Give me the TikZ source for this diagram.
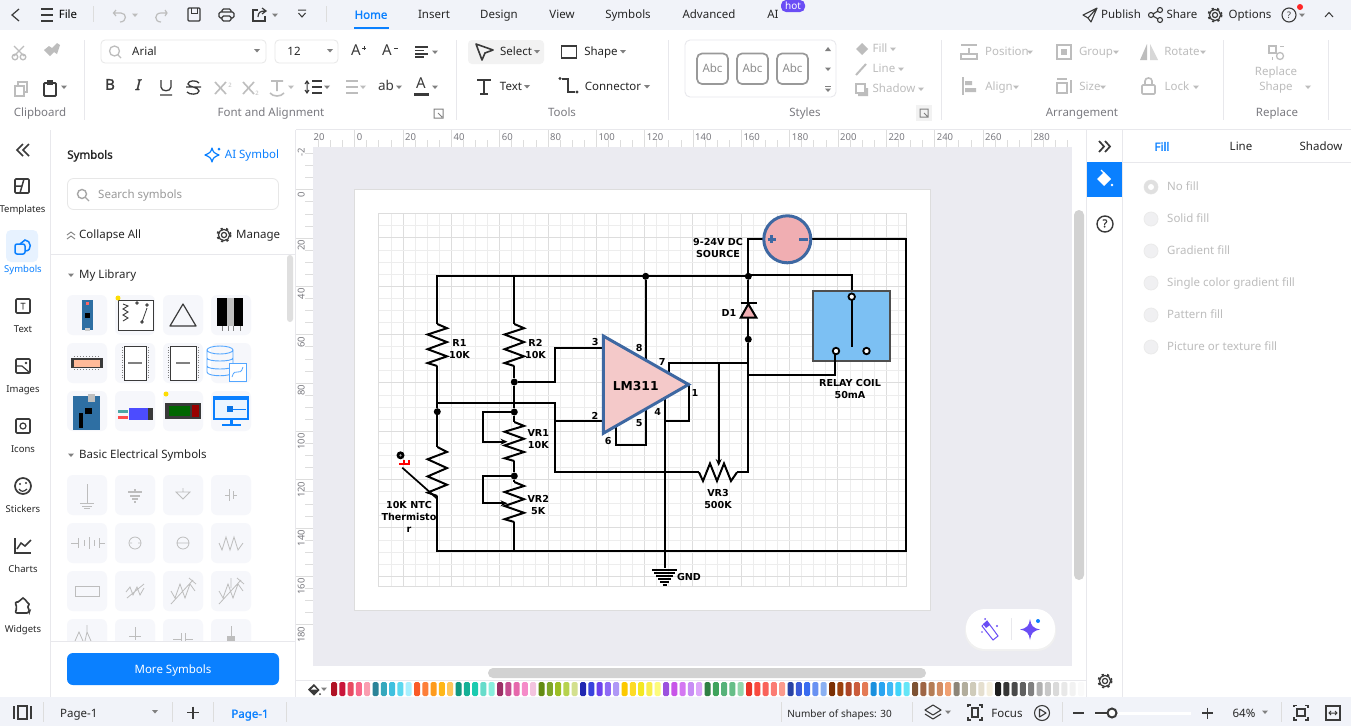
\documentclass[tikz,border=0pt]{standalone}
\usepackage{fontspec}
\setmainfont{Noto Sans}[BoldFont={Noto Sans},BoldFeatures={FakeBold=1.4}]
\newfontfamily\dgfont{DejaVu Sans}
\usetikzlibrary{arrows.meta,shapes.geometric}
\definecolor{accent}{HTML}{0A80FF}
\definecolor{barbg}{HTML}{F1F3F9}
\definecolor{canvasbg}{HTML}{EBEBF1}
\definecolor{icdark}{HTML}{3A3A3A}
\definecolor{disgray}{HTML}{BDBDBD}
\definecolor{labgray}{HTML}{7A7A80}
\definecolor{sepgray}{HTML}{E8E8EC}
\definecolor{tilebg}{HTML}{F6F7FB}
\definecolor{gridmin}{HTML}{EDEDED}
\definecolor{gridmaj}{HTML}{DDDDDD}
\definecolor{ampstroke}{HTML}{3E68A2}
\definecolor{ampfill}{HTML}{F4C9C9}
\definecolor{srcfill}{HTML}{F0AEB2}
\definecolor{relayfill}{HTML}{7CC0F3}
\definecolor{violet}{HTML}{6A4DF5}
\definecolor{radiofill}{HTML}{F0F0F2}
\definecolor{boardblue}{HTML}{2E6FA3}
\definecolor{pureRed}{HTML}{FF0000}
\newcounter{uic}
\newcommand{\ut}[5]{\stepcounter{uic}\node[ui,anchor=#3,text=#4] (t\arabic{uic}) at (#1,#2+.8) {#5};}
\newcommand{\ub}[5]{\stepcounter{uic}\node[ui,anchor=#3,text=#4,font=\fontsize{11.5}{13}\selectfont\bfseries] (t\arabic{uic}) at (#1,#2+.8) {#5};}
\newcommand{\caret}[3]{\fill[#3] (#1-3,#2-1.5) -- (#1+3,#2-1.5) -- (#1,#2+2) -- cycle;}
\newcommand{\gear}[3]{\draw[#3,line width=1.2] (#1,#2) circle[radius=2.6]; \draw[#3,line width=1.2] (#1,#2) circle[radius=5.6]; \draw[#3,line width=1.8,dash pattern=on 2.2pt off 3.3pt] (#1,#2) circle[radius=6.6];}
\newcommand{\vzz}[3]{\draw[wire,line join=miter] ({#1},{#2}) -- ({#1+9.7},{#2+.1*(#3-#2)}) -- ({#1-9.7},{#2+.25*(#3-#2)}) -- ({#1+9.7},{#2+.43*(#3-#2)}) -- ({#1-9.7},{#2+.6*(#3-#2)}) -- ({#1+9.7},{#2+.77*(#3-#2)}) -- ({#1-9.7},{#2+.93*(#3-#2)}) -- ({#1},{#3});}
\newcommand{\tile}[2]{\fill[tilebg,rounded corners=6pt] (#1,#2) rectangle (#1+40,#2+40);}
\tikzset{
  ui/.style={font=\fontsize{11.5}{13}\selectfont,inner sep=0pt,text height=8.5pt,text depth=2.5pt},
  wire/.style={draw=black,line width=2pt},
  dot/.style={circle,fill=black,inner sep=0pt,minimum size=7pt},
  dlabel/.style={font=\dgfont\bfseries\fontsize{9.6}{12}\selectfont,align=center,inner sep=0pt},
  ic/.style={draw=icdark,line width=1.3pt},
  dis/.style={draw=disgray,line width=1.3pt},
  sym/.style={draw=disgray,line width=.8pt},
}
\begin{document}
\begin{tikzpicture}[x=1pt,y=-1pt]
\useasboundingbox (0,0) rectangle (1351,726);
\fill[white] (0,0) rectangle (1351,726);
% canvas
\fill[canvasbg] (313,147) rectangle (1072,666);
\draw[draw=gridmaj,line width=1pt,fill=white] (354.7,189.8) rectangle (930,610);
% grid
\foreach \i in {0,...,43}{\pgfmathtruncatemacro\m{mod(\i+2,4)}
  \ifnum\m=0 \draw[gridmaj,line width=1pt] ({378.9+12.08*\i},213.5) -- ({378.9+12.08*\i},586.7);
  \else \draw[gridmin,line width=.9pt] ({378.9+12.08*\i},213.5) -- ({378.9+12.08*\i},586.7);\fi}
\foreach \j in {0,...,30}{\pgfmathtruncatemacro\m{mod(\j+2,4)}
  \ifnum\m=0 \draw[gridmaj,line width=1pt] (378.9,{213.8+12.08*\j}) -- (906,{213.8+12.08*\j});
  \else \draw[gridmin,line width=.9pt] (378.9,{213.8+12.08*\j}) -- (906,{213.8+12.08*\j});\fi}
\draw[gridmaj,line width=1pt] (378.9,213.5) rectangle (906,586.7);
% === circuit ===
\coordinate (railL) at (437.3,276.3);
\coordinate (railR2) at (514.3,276.3);
\coordinate (r1top) at (437.3,324);
\coordinate (r1bot) at (437.3,366);
\coordinate (thtop) at (437.3,447);
\coordinate (thbot) at (437.3,496);
\coordinate (botL) at (437.3,551);
\coordinate (botV) at (514.3,551);
\coordinate (botR) at (905.7,551);
\coordinate (r2top) at (514.3,324);
\coordinate (r2bot) at (514.3,366);
\coordinate (vr1top) at (514.3,422);
\coordinate (vr1bot) at (514.3,461);
\coordinate (vr2top) at (514.3,482);
\coordinate (vr2bot) at (514.3,522);
\coordinate (srcL) at (763,239.3);
\coordinate (srcR) at (811.5,239.3);
\coordinate (srcCorner) at (748.3,239.3);
\coordinate (srcCornerR) at (905.7,239.3);
\coordinate (relTop) at (851.7,296.7);
\coordinate (relBl) at (851.7,346.5);
\coordinate (p3) at (603.3,348.3);
\coordinate (p2) at (603.3,421);
\coordinate (vr3l) at (699,472.3);
\coordinate (vr3r) at (737,472.3);
\node[dot] (dR2) at (514.3,382) {};
\node[dot] (dR1) at (437.3,411.7) {};
\node[dot] (dV1) at (514.3,412) {};
\node[dot] (dV2) at (514.3,476) {};
\node[dot] (dP8) at (645.7,276.3) {};
\node[dot] (dD) at (748.3,276.3) {};
\node[dot] (dK) at (748.3,339.3) {};
% rails
\draw[wire] (r1top) -- (railL) -- (dD) -- (748.3,275.3) -- (851.7,275.3) -- (relTop);
\draw[wire] (railR2) -- (r2top);
\draw[wire] (r2bot) -- (dR2) -- (dV1) -- (vr1top);
\draw[wire] (r1bot) -- (dR1) -- (thtop);
\draw[wire] (thbot) -- (botL) -- (botR) -- (srcCornerR) -- (srcR);
\draw[wire] (botV) -- (vr2bot);
\draw[wire] (vr1bot) -- (dV2) -- (vr2top);
\draw[wire] (dR2) -- (555.3,382) -- (555.3,348.3) -- (p3);
\draw[wire] (437.3,403.3) -- (555.3,403.3) -- (555.3,472.3) -- (vr3l);
\draw[wire] (555.3,421) -- (p2);
\draw[wire] (vr3r) -- (748.3,472.3) -- (dK);
\draw[wire] (dD) -- (srcCorner) -- (srcL);
\draw[wire] (dD) -- (dK);
\draw[wire] (748.3,375) -- (835.3,375) -- (835.3,351);
\draw[wire] (dP8) -- (645.7,362);
\draw[wire] (669,376) -- (669,363.3) -- (748.3,363.3);
\draw[wire,-{Stealth[length=7pt,width=6pt]}] (718.7,363.3) -- (718.7,466);
\draw[wire] (615.7,425) -- (615.7,445) -- (645.7,445) -- (645.7,409);
\draw[wire] (664.7,396) -- (664.7,568);
\draw[wire] (689,384) -- (689,421) -- (664.7,421);
\draw[wire,-{Stealth[length=7pt,width=6pt]}] (dV1) -- (482.7,412) -- (482.7,441.7) -- (507.5,441.7);
\draw[wire,-{Stealth[length=7pt,width=6pt]}] (dV2) -- (482.7,476) -- (482.7,503.3) -- (507.5,503.3);
\vzz{437.3}{324}{366}
\vzz{514.3}{324}{366}
\vzz{437.3}{447}{496}
\vzz{514.3}{422}{461}
\vzz{514.3}{482}{522}
\draw[wire] (vr3l) -- (703,481) -- (710,463.5) -- (717,481) -- (724,463.5) -- (731,481) -- (vr3r);
% thermistor arrow line
\coordinate (thA) at (402.3,467.7);
\coordinate (thB) at (437,498.5);
\draw[black,line width=1.7pt] (thA) -- (thB);
\node[circle,fill=black,inner sep=0pt,minimum size=8pt] (thDot) at (400.5,455.3) {};
\fill[gray!70] (thDot.center) circle[radius=1.2];
\draw[pureRed,line width=2pt] (399,463.5) -- (409.3,463.5) -- (409.3,459.5);
\draw[pureRed,line width=2pt] (403.5,459.5) -- (403.5,463.5);
% relay
\node[draw=icdark!90,line width=2pt,fill=relayfill,minimum width=76.4pt,minimum height=69.4pt,inner sep=0pt] (relay) at (851.5,326) {};
\draw[black,line width=2pt] (relTop) -- (relBl);
\draw[wire] (835.3,375) -- (835.3,351);
\node[circle,draw=black,line width=1.8pt,fill=white,minimum size=6.5pt,inner sep=0pt] (rt) at (relTop) {};
\node[circle,draw=black,line width=1.8pt,fill=white,minimum size=6.5pt,inner sep=0pt] (rl) at (836,351) {};
\node[circle,draw=black,line width=1.8pt,fill=white,minimum size=6.5pt,inner sep=0pt] (rr) at (866.5,351) {};
% source
\node[circle,draw=ampstroke,line width=3pt,fill=srcfill,minimum size=47pt,inner sep=0pt] (src) at (787.3,239.3) {};
\draw[ampstroke,line width=2.6pt] (767.5,239.3) -- (775.5,239.3) (771.5,235.3) -- (771.5,243.3);
\draw[ampstroke,line width=2.6pt] (799,239.3) -- (807.5,239.3);
% diode
\draw[black,line width=2pt] (740.5,303.3) -- (756.5,303.3);
\draw[black,line width=2pt,fill=srcfill,line join=miter] (748.3,304) -- (756.3,317.5) -- (740.8,317.5) -- cycle;
% op amp
\draw[ampstroke,line width=3pt,fill=ampfill,line join=miter] (603.3,336) -- (688.5,384.5) -- (603.3,433.3) -- cycle;
% ground
\foreach \a/\b in {570/12.5,573/10.5,576/8.5,579/6.5,582/4.5,585/2.2}{\draw[black,line width=1.6pt] ({664.7-\b},\a) -- ({664.7+\b},\a);}
\node[dlabel] (gnd) at (689,576.5) {GND};
\node[dlabel,font=\dgfont\bfseries\fontsize{12.3}{13}\selectfont] (lm) at (635.7,385.7) {LM311};
\node[dlabel] (lR1) at (459.5,349.5) {R1\\10K};
\node[dlabel] (lR2) at (535.5,348.5) {R2\\10K};
\node[dlabel] (n3) at (595.3,341.7) {3};
\node[dlabel] (n8) at (639.3,348.3) {8};
\node[dlabel] (n7) at (662.3,361.7) {7};
\node[dlabel] (n2) at (595,415.7) {2};
\node[dlabel] (n6) at (608.3,440.7) {6};
\node[dlabel] (n5) at (639.3,423.3) {5};
\node[dlabel] (n4) at (657.7,412.3) {4};
\node[dlabel] (n1) at (695,392.7) {1};
\node[dlabel] (lV1) at (538.3,439.5) {VR1\\10K};
\node[dlabel] (lV2) at (538.3,505.3) {VR2\\5K};
\node[dlabel] (lV3) at (718,499) {VR3\\500K};
\node[dlabel] (lTh) at (409,516.7) {10K NTC\\Thermisto\\r};
\node[dlabel] (lD1) at (729,313.3) {D1};
\node[dlabel] (lSrc) at (718,247.5) {9-24V DC\\SOURCE};
\node[dlabel] (lRel) at (850,388.8) {RELAY COIL\\50mA};
% === rulers ===
\fill[white] (296,130) rectangle (1072,147);
\foreach \k in {-4,...,59}{\pgfmathsetmacro\xx{354.7+12.083*\k}
  \ifdim\xx pt>313pt \draw[gridmaj,line width=.8pt] (\xx,140) -- (\xx,147);\fi}
\foreach \k/\v in {0/0,1/20,2/40,3/60,4/80,5/100,6/120,7/140,8/160,9/180,10/200,11/220,12/240,13/260,14/280}{
  \draw[gridmaj,line width=.8pt] ({354.7+48.33*\k},130) -- ({354.7+48.33*\k},147);
  \node[ui,font=\fontsize{9.5}{11}\selectfont,text=labgray,anchor=west,text height=7pt,text depth=0pt] (rh\k) at ({356.7+48.33*\k},136.5) {\v};}
\fill[white] (296,147) rectangle (313,666);
\fill[white] (296,130) rectangle (313,147);
\node[ui,font=\fontsize{9.5}{11}\selectfont,text=labgray,anchor=west,text height=7pt,text depth=0pt] (rhn) at (313.5,136.5) {20};
\foreach \k in {0,...,39}{\pgfmathsetmacro\yy{153.5+12.083*\k}
  \draw[gridmaj,line width=.8pt] (305,\yy) -- (313,\yy);}
\foreach \k/\v in {0/0,1/20,2/40,3/60,4/80,5/100,6/120,7/140,8/160,9/180}{
  \draw[gridmaj,line width=.8pt] (296,{189.8+48.33*\k}) -- (313,{189.8+48.33*\k});
  \node[ui,font=\fontsize{9.5}{11}\selectfont,text=labgray,anchor=east,rotate=90,text height=7pt,text depth=0pt] (rv\k) at (301,{191.5+48.33*\k}) {\v};}
\node[ui,font=\fontsize{9.5}{11}\selectfont,text=labgray,anchor=center,rotate=90,text height=7pt,text depth=0pt] (rvm) at (301,152) {-2};
\draw[sepgray,line width=1pt] (295.5,130) -- (295.5,697);
\draw[sepgray,line width=1pt] (296,129.5) -- (1087,129.5);
% scrollbars
\fill[white] (1072,130) rectangle (1087,697);
\fill[white] (296,666) rectangle (1087,697);
\fill[gray!35,rounded corners=5pt] (1074,210) rectangle (1084,580);
\fill[gray!35,rounded corners=5pt] (488,668) rectangle (926,678);
% floating panel
\fill[black!6,rounded corners=19pt] (965,611) rectangle (1056,651);
\fill[white,rounded corners=19pt] (966,609) rectangle (1055,649);
\draw[sepgray,line width=.8pt] (1011,618) -- (1011,640);
\draw[violet,line width=1pt,fill=white] (982,626) -- (987,621) -- (998,636) -- (993,640) -- cycle;
\fill[violet] (983,624) -- (987,621) -- (990,625) -- (986,628) -- cycle;
\fill[violet] (985,619) circle[radius=1] (997,626) circle[radius=1.2] (982,632) circle[radius=.9];
\fill[violet] (1030,619) .. controls (1031,626) and (1033,628) .. (1040,629.5) .. controls (1033,631) and (1031,633) .. (1030,640) .. controls (1029,633) and (1027,631) .. (1020,629.5) .. controls (1027,628) and (1029,626) .. (1030,619) -- cycle;
\fill[accent] (1038,621) circle[radius=2];
% colour strip
\draw[sepgray,line width=.8pt] (296,680.5) -- (1087,680.5);
\fill[icdark] (308,689.5) -- (314,684) -- (319.5,690) -- (314,695.5) -- cycle;
\fill[white] (311,689.5) -- (314,686.5) -- (317,689.5) -- cycle;
\fill[icdark] (320,694) circle[radius=1];
\caret{324}{689}{gray}
\foreach \c [count=\i from 0] in {B01225,C9143A,E84A62,F8688A,FA9DB0,2A8398,35A8BD,3FC0DF,5BD8EF,A8F0FF,FA5B28,FD7F3A,FE9B1E,FFB718,FFC65C,129880,15B096,1CCBB0,67DCCB,88EFDD,9C3067,C54D90,E668AC,F58BC9,F3C4DF,638C12,7FA62A,9CBE26,B6D24E,D3E08E,2127B2,3942DE,6D42ED,8F6AF5,AF98F6,FCC900,FDDB28,F4E822,F9EE4C,FDFB7C,9B52DE,C855E8,D477F2,C88DF5,DDA6FB,2F7F44,3FA35C,57B27A,67BE88,94D6AC,EA3428,F94B40,F9625A,FB7C74,FB9A8C,2842A5,3B5BD8,3A6CF0,6991F2,8BB0F2,7B2E02,9B400D,AD4526,CB5C3C,E47A55,1A90DE,2AA5F1,40B8F6,40D4FA,65E6F7,7E5233,9E6545,B47C55,D38C62,F0A072,8D8578,B2AD9D,CFCBBA,E5DFCF,F5EFDE,1C1C1C,363636,4A4A4A,606060,808080,B0B0B0,C8C8C8,DADADA,E8E8E8,F2F2F2,FAFAFA}{
  \definecolor{swc}{HTML}{\c}
  \fill[swc,rounded corners=1.5pt] ({331+8.3*\i},682) rectangle ({337+8.3*\i},696);}
% === top bar ===
\fill[barbg] (0,0) rectangle (1351,30);
\draw[icdark,line width=1.2pt] (19,9) -- (12,15) -- (19,21);
\draw[icdark,line width=1.2pt] (41,9) -- (53,9) (41,15) -- (53,15) (41,21) -- (53,21);
\ut{68}{15}{center}{black}{File}
\draw[gridmaj,line width=.8pt] (93.5,6) -- (93.5,22);
\draw[disgray,line width=1.2pt] (116,10) -- (113.5,13) -- (116,16) (114,13) -- (121,13) .. controls (127,13) and (127,22) .. (120,22);
\caret{135}{15}{disgray}
\draw[disgray,line width=1.2pt] (165,10) -- (167,13) -- (165,16) (167,13) -- (161,13) .. controls (154,13) and (154,22) .. (161,22);
\draw[icdark,line width=1.2pt,rounded corners=1pt] (188,8) rectangle (200,21);
\draw[icdark,line width=1pt] (191,8) -- (191,13) -- (197,13) -- (197,8);
\draw[icdark,line width=1.2pt,rounded corners=1.5pt] (222,12) -- (222,9) -- (231,9) -- (231,12) (222,18) -- (219,18) -- (219,12) -- (234,12) -- (234,18) -- (231,18) (222,16) rectangle (231,21);
\draw[icdark,line width=1.2pt] (258,10) -- (253,10) -- (253,21) -- (265,21) -- (265,16);
\draw[icdark,line width=1.2pt] (258,17) .. controls (258,12) and (261,11) .. (265,11) (262,8) -- (266,11) -- (262,14);
\caret{275}{15}{gray}
\draw[icdark,line width=1pt] (298,10) -- (306,10) (298.5,13) -- (302,17) -- (305.5,13);
\draw[gridmaj,line width=.8pt] (326.5,6) -- (326.5,22);
\ub{371}{15}{center}{accent}{Home}
\fill[accent] (354,27) rectangle (389,29);
\ut{434}{15}{center}{black!85}{Insert}
\ut{499}{15}{center}{black!85}{Design}
\ut{562}{15}{center}{black!85}{View}
\ut{628}{15}{center}{black!85}{Symbols}
\ut{709}{15}{center}{black!85}{Advanced}
\ut{773}{15}{center}{black!85}{AI}
\fill[violet,rounded corners=5pt] (781,0) rectangle (805,12);
\stepcounter{uic}\node[ui,font=\fontsize{10}{11}\selectfont,text=white,text height=6pt,text depth=0pt] (hot) at (793,6) {hot};
\draw[icdark,line width=1.1pt,line join=round] (1097,8) -- (1083,15) -- (1088,18) -- (1097,8) -- (1091,22) -- (1088,18);
\ut{1121}{15}{center}{black!85}{Publish}
\draw[icdark,line width=1.1pt] (1151,15) circle[radius=2.5] (1160,10) circle[radius=2.5] (1160,20) circle[radius=2.5] (1153,14) -- (1158,11) (1153,16) -- (1158,19);
\ut{1182}{15}{center}{black!85}{Share}
\gear{1215}{15}{icdark}
\ut{1250}{15}{center}{black!85}{Options}
\draw[icdark,line width=1.1pt] (1289,15) circle[radius=7];
\node[ui,font=\fontsize{9}{10}\selectfont,text=icdark,text height=6.5pt,text depth=0pt] (q1) at (1289,15) {?};
\fill[red!85!white] (1300,7) circle[radius=3];
\caret{1302}{15}{gray}
\draw[icdark,line width=1pt] (1325,17) -- (1329,12.5) -- (1333,17);
% === ribbon separators ===
\foreach \sx in {84,456,668,941,1223,1328}{\draw[sepgray,line width=.8pt] (\sx,40) -- (\sx,120);}
% clipboard
\draw[disgray,line width=1.3pt] (14,46) -- (24,56) (24,46) -- (14,56) (15,57) circle[radius=2.8] (23,57) circle[radius=2.8];
\fill[disgray] (44,50) -- (50,56) -- (54,52) -- (57,54) -- (60,45) -- (57,43) -- (52,48) -- (49,46) -- cycle;
\draw[dis] (15,86) rectangle (24,96) (18,86) -- (18,82) -- (27,82) -- (27,92) -- (24,92);
\draw[ic,line width=1.8pt,rounded corners=1pt] (44,83) rectangle (56,96);
\fill[icdark] (47,80) rectangle (53,85);
\caret{64}{87}{gray}
\ut{40}{113}{center}{labgray}{Clipboard}
% font row
\draw[gridmaj!70,line width=.8pt,rounded corners=4pt] (101,40) rectangle (266,63);
\draw[disgray,line width=1.3pt] (114.5,51) circle[radius=5] (118,55) -- (121,58);
\ut{132}{52}{west}{black!85}{Arial}
\caret{257}{50.5}{gray}
\draw[gridmaj!70,line width=.8pt,rounded corners=4pt] (275,40) rectangle (338,63);
\ut{294}{52}{center}{black!85}{12}
\caret{330}{50.5}{gray}
\ut{356}{52}{center}{icdark}{\fontsize{15}{15}\selectfont A}
\draw[icdark,line width=1pt] (362,48) -- (366,48) (364,46) -- (364,50);
\ut{387}{52}{center}{icdark}{\fontsize{15}{15}\selectfont A}
\draw[icdark,line width=1pt] (394,48) -- (398,48);
\draw[icdark,line width=1.3pt] (415,47) -- (428,47) (415,50.5) -- (424,50.5) (415,54) -- (428,54) (415,57) -- (424,57);
\caret{435}{52}{gray}
\ub{110}{86}{center}{icdark}{\fontsize{15}{15}\selectfont B}
\stepcounter{uic}\node[ui,font=\fontsize{15}{15}\selectfont\bfseries,text=icdark,xslant=.25] (iI) at (138,87) {I};
\draw[icdark,line width=1.3pt] (161,80) -- (161,87) .. controls (161,92) and (171,92) .. (171,87) -- (171,80) (160,95) -- (172,95);
\draw[icdark,line width=1.3pt] (199,83) .. controls (197,80) and (188,80) .. (188,84) .. controls (188,87) and (199,87) .. (199,91) .. controls (199,95) and (189,95) .. (187,92) (186,87) -- (201,87);
\draw[disgray,line width=1.6pt] (215,82) -- (226,94) (226,82) -- (215,94);
\ut{230}{84}{center}{disgray}{\fontsize{6}{6}\selectfont 2}
\draw[disgray,line width=1.6pt] (243,82) -- (254,94) (254,82) -- (243,94);
\ut{257}{92}{center}{disgray}{\fontsize{6}{6}\selectfont 2}
\draw[disgray,line width=1.6pt] (271,81) -- (283,81) (277,81) -- (277,91) (270,93) .. controls (273,97) and (281,97) .. (284,93);
\caret{291}{87}{disgray}
\draw[icdark,line width=1.5pt] (312,87) -- (322,87) (312,81) -- (322,81) (312,93) -- (322,93);
\draw[icdark,line width=1pt] (307,82) -- (307,92) (305,84) -- (307,81) -- (309,84) (305,90) -- (307,93) -- (309,90);
\caret{327}{87}{gray}
\draw[disgray,line width=1.2pt] (346,81) -- (358,81) (346,87) -- (358,87) (346,93) -- (358,93);
\caret{363}{87}{disgray}
\ut{386}{86.5}{center}{icdark}{\fontsize{13.5}{14}\selectfont ab}
\caret{399}{87}{gray}
\ut{421}{84.5}{center}{icdark}{\fontsize{15}{15}\selectfont A}
\fill[icdark] (414,93) rectangle (429,95.5);
\caret{435}{87}{gray}
\ut{271}{113}{center}{labgray}{Font and Alignment}
\draw[gray,line width=1pt] (434,109) rectangle (443,118) (438,113) -- (442,117);
% tools
\fill[black!5,rounded corners=4pt] (468,40) rectangle (544,64);
\draw[icdark,line width=1.6pt,line join=round] (476,44) -- (493,50) -- (485,53) -- (482,60) -- cycle;
\ut{516}{52}{center}{black!85}{Select}
\caret{537}{51.5}{gray}
\draw[icdark,line width=1.7pt] (561.5,46) rectangle (576.5,58);
\ut{601}{52}{center}{black!85}{Shape}
\caret{623}{51.5}{gray}
\draw[icdark,line width=1.7pt] (477,80) -- (491,80) (484,80) -- (484,94) (480,94) -- (488,94);
\ut{511}{87}{center}{black!85}{Text}
\caret{527}{86.5}{gray}
\draw[icdark,line width=1.5pt] (562,79) -- (568,79) -- (568,92) -- (575,92);
\fill[icdark] (560,78.5) circle[radius=1.6] (577,92) circle[radius=1.6];
\ut{613}{87}{center}{black!85}{Connector}
\caret{647}{86.5}{gray}
\ut{562}{113}{center}{labgray}{Tools}
% styles
\draw[sepgray,line width=.9pt,rounded corners=5pt] (685,40) rectangle (836,97);
\foreach \bx/\bn in {697/a,737/b,777/c}{
  \draw[gray!80,line width=1.7pt,rounded corners=5pt] (\bx,53.5) rectangle (\bx+31,84);
  \ut{\bx+15.5}{69}{center}{gray!90}{Abc}}
\fill[gray] (828,47) -- (825,51) -- (831,51) -- cycle;
\caret{828}{69}{gray}
\caret{828}{90}{gray}
\draw[gray,line width=.8pt] (825,86) -- (831,86);
\ut{805}{113}{center}{labgray}{Styles}
\fill[disgray] (856,49) -- (862,43) -- (868,49) -- (862,55) -- cycle;
\ut{880}{49}{center}{disgray}{Fill}
\caret{893}{49}{disgray}
\draw[disgray,line width=2pt] (856,75) -- (866,64);
\ut{884}{69}{center}{disgray}{Line}
\caret{901}{69}{disgray}
\draw[disgray,line width=1.4pt,fill=white] (856,84) rectangle (865,93);
\fill[disgray] (866,88) rectangle (868,95) (858,94) rectangle (868,96);
\ut{894}{89}{center}{disgray}{Shadow}
\caret{921}{89}{disgray}
\fill[black!5] (916,105) rectangle (932,121);
\draw[gray,line width=1pt] (920,109) rectangle (928,117) (924,113) -- (928,117);
% arrangement
\draw[dis] (961,45) -- (977,45) (961,59) rectangle (977,54) (969,53) -- (969,48);
\ut{1007}{52}{center}{disgray}{Position}
\caret{1030}{52}{disgray}
\draw[dis,line width=1.8pt] (1057,45) rectangle (1071,59);
\fill[disgray] (1061,49) rectangle (1067,55);
\ut{1096}{52}{center}{disgray}{Group}
\caret{1116}{52}{disgray}
\fill[disgray] (1147,44) -- (1147,60) -- (1140,60) -- cycle;
\fill[disgray!60] (1150,44) -- (1150,60) -- (1158,60) -- cycle;
\ut{1182}{52}{center}{disgray}{Rotate}
\caret{1203}{52}{disgray}
\draw[dis,line width=1.6pt] (963,77) -- (963,95);
\fill[disgray] (965,81) rectangle (972,85) (965,88) rectangle (976,92);
\ut{999}{87}{center}{disgray}{Align}
\caret{1016}{87}{disgray}
\draw[dis] (1057,79) -- (1067,79) (1057,83) rectangle (1067,93) (1071,80) -- (1071,93);
\ut{1090}{87}{center}{disgray}{Size}
\caret{1103}{87}{disgray}
\draw[dis,line width=1.6pt,rounded corners=1pt] (1142,85) rectangle (1155,94);
\draw[dis,line width=1.6pt] (1145,85) -- (1145,81) .. controls (1145,77) and (1152,77) .. (1152,81) -- (1152,85);
\ut{1177}{87}{center}{disgray}{Lock}
\caret{1196}{87}{disgray}
\ut{1082}{113}{center}{labgray}{Arrangement}
\draw[dis] (1269,46) rectangle (1276,53);
\draw[dis] (1280,56) circle[radius=3.5];
\draw[dis,line width=1pt] (1280,46) -- (1284,46) (1272,57) -- (1272,60);
\ut{1276}{72}{center}{disgray}{Replace}
\ut{1276}{87}{center}{disgray}{Shape}
\caret{1308}{87}{disgray}
\ut{1277}{113}{center}{labgray}{Replace}
% === left rail ===
\draw[sepgray,line width=1pt] (50.5,130) -- (50.5,697);
\draw[icdark,line width=1.7pt] (23,144) -- (17,150) -- (23,156) (29,144) -- (23,150) -- (29,156);
\draw[icdark,line width=1.7pt,rounded corners=1pt] (15,179) rectangle (29,193);
\draw[icdark,line width=1.5pt] (15,186) -- (22,186) (24,179) -- (20,193);
\ut{22.5}{208.3}{center}{black!85}{\fontsize{9.5}{11}\selectfont Templates}
\fill[accent!10,rounded corners=5pt] (6,230) rectangle (38,262);
\draw[accent,line width=1.5pt,rounded corners=2pt] (15,244) rectangle (25,254);
\draw[accent,line width=1.5pt] (25,251) .. controls (33,251) and (31,240) .. (25,240) -- (20,244);
\ut{23}{268.3}{center}{accent}{\fontsize{9.5}{11}\selectfont Symbols}
\draw[icdark,line width=1.7pt,rounded corners=1pt] (16,299) rectangle (30,313);
\ub{23}{305.5}{center}{icdark}{\fontsize{9}{9}\selectfont T}
\ut{23}{328.3}{center}{black!85}{\fontsize{9.5}{11}\selectfont Text}
\draw[icdark,line width=1.7pt,rounded corners=1pt] (16,359) rectangle (30,373);
\draw[icdark,line width=1.2pt] (16,366) -- (22,366) -- (29,372);
\fill[icdark] (26,363) circle[radius=1.3];
\ut{23}{388.3}{center}{black!85}{\fontsize{9.5}{11}\selectfont Images}
\draw[icdark,line width=1.7pt,rounded corners=1pt] (16,419) rectangle (30,433);
\draw[icdark,line width=1.2pt] (23,426) circle[radius=3];
\ut{23}{448.3}{center}{black!85}{\fontsize{9.5}{11}\selectfont Icons}
\draw[icdark,line width=1.7pt] (23,486) circle[radius=8];
\fill[icdark] (20,484) circle[radius=1.1] (26,483) circle[radius=1.1];
\draw[icdark,line width=1.2pt] (19,489) .. controls (21,492) and (24,492) .. (27,489);
\ut{23}{508.3}{center}{black!85}{\fontsize{9.5}{11}\selectfont Stickers}
\draw[icdark,line width=1.6pt] (15,538) -- (15,553) -- (31,553);
\draw[icdark,line width=1.5pt] (17,549) -- (21,543) -- (25,546) -- (31,540);
\ut{23}{568.3}{center}{black!85}{\fontsize{9.5}{11}\selectfont Charts}
\draw[icdark,line width=1.6pt,rounded corners=2pt] (15,602) -- (20,602) -- (21,598) -- (25,598) -- (26,602) -- (30,604) -- (27,607) -- (30,610) -- (29,613) -- (15,613) -- (17,608) -- cycle;
\ut{23}{628.3}{center}{black!85}{\fontsize{9.5}{11}\selectfont Widgets}
% === symbols panel ===
\ub{90}{155}{center}{black!85}{Symbols}
\draw[accent,line width=1.2pt,line join=round] (212,148) .. controls (213,152) and (214,153) .. (219,155) .. controls (214,157) and (213,158) .. (212,162) .. controls (211,158) and (210,157) .. (205,155) .. controls (210,153) and (211,152) .. (212,148) -- cycle;
\fill[accent] (219,149) circle[radius=1.5];
\ut{252}{155}{center}{accent}{AI Symbol}
\draw[gridmaj!70,line width=.8pt,rounded corners=6pt] (67.5,178.5) rectangle (278.5,209.5);
\draw[gray!70,line width=1.4pt] (82,194) circle[radius=4.5] (85.5,197.5) -- (89,201);
\ut{98}{195}{west}{gray!80}{Search symbols}
\draw[gray,line width=.9pt] (67,235) -- (71,232) -- (75,235) (67,239) -- (71,236) -- (75,239);
\ut{79}{235}{west}{black!85}{Collapse All}
\gear{224}{235}{icdark}
\ut{236}{235}{west}{black!85}{Manage}
\draw[sepgray,line width=1pt] (51,254.5) -- (295,254.5);
\fill[gray!25,rounded corners=3pt] (287,255) rectangle (293,322);
\caret{71}{275}{gray}
\ut{79}{275}{west}{black!85}{My Library}
\foreach \ty in {295,343,391}{\foreach \tx in {67,115,163,211}{\tile{\tx}{\ty}}}
% tile icons row 1
\fill[boardblue] (82,300) rectangle (93,330);
\fill[black] (85,313) rectangle (90,318);
\fill[gray!40] (85,328) rectangle (90,331);
\fill[red!60] (86,302) rectangle (89,305);
\draw[icdark,line width=.9pt,fill=white] (118,300) rectangle (153,330);
\draw[icdark,line width=.9pt] (123,304) -- (128,306) -- (123,309) -- (128,312) -- (123,315) -- (128,318) -- (123,321);
\draw[icdark,line width=.8pt] (142,322) -- (147,308);
\draw[icdark,line width=.8pt] (142,322) circle[radius=1.3] (147,305) circle[radius=1.3] (137,303) circle[radius=1.3];
\fill[yellow!80!orange] (118,298) circle[radius=2.5];
\draw[icdark,line width=1.2pt,line join=round] (183,304) -- (196,326) -- (170,326) -- cycle;
\fill[black] (217,298) rectangle (243,326);
\fill[gray!50] (227,298) rectangle (234,326);
\draw[gray,line width=.7pt] (222,326) -- (222,331) (228,326) -- (228,331) (233,326) -- (233,331) (240,326) -- (240,331);
% row 2
\fill[icdark] (71,358) rectangle (103,368);
\fill[red!35!orange!40] (74,359.5) rectangle (100,366.5);
\draw[gray,line width=.7pt,dash pattern=on 1pt off 2pt] (74,356.5) -- (100,356.5) (74,369.5) -- (100,369.5);
\foreach \cx/\wd in {135/11,183/13}{
 \draw[icdark,line width=.8pt,fill=white] (\cx-\wd,346) rectangle (\cx+\wd,380);
 \draw[gray,line width=1pt,dash pattern=on 1pt off 1.5pt] (\cx-\wd-2,347) -- (\cx-\wd-2,379) (\cx+\wd+2,347) -- (\cx+\wd+2,379);
 \fill[gray] (\cx-7,362) rectangle (\cx+7,364);}
\draw[accent!70,line width=.9pt] (220,350) ellipse[x radius=13,y radius=4] (207,350) -- (207,372) .. controls (207,377) and (233,377) .. (233,372) -- (233,350) (207,358) .. controls (207,362) and (233,362) .. (233,358) (207,366) .. controls (207,370) and (233,370) .. (233,366);
\draw[accent!70,line width=.9pt,fill=white] (229,363) rectangle (246,381);
\draw[accent!70,line width=.8pt] (232,377) .. controls (235,366) and (240,378) .. (243,367);
% row 3
\fill[boardblue] (73,396) rectangle (100,430);
\fill[gray!50] (88,394) rectangle (95,402);
\fill[black] (79,413) rectangle (83,428);
\fill[black] (85,408) rectangle (92,414);
\fill[blue!70!white] (129,408) rectangle (148,420);
\fill[icdark] (148,408) rectangle (153,420);
\fill[teal!70] (118,410) rectangle (128,413);
\fill[red!70] (118,416) rectangle (128,419);
\fill[icdark] (165,403) rectangle (201,419);
\fill[green!40!black] (169,406) rectangle (190,416);
\fill[red!60!black] (192,405) rectangle (199,417);
\fill[yellow!80!orange] (166,394) circle[radius=2.5];
\draw[accent,line width=1.5pt,fill=accent!8] (214,397) rectangle (248,419);
\fill[accent] (214,397) rectangle (248,400);
\fill[accent!90!black] (227,406) rectangle (233,412);
\draw[accent,line width=.8pt] (233,409) -- (246,409);
\fill[accent] (230,419) rectangle (233,424);
\fill[accent] (222,424) rectangle (241,426);
% electrical
\caret{71}{455}{gray}
\ut{79}{455}{west}{black!85}{Basic Electrical Symbols}
\foreach \ty in {475,523,571,619}{\foreach \tx in {67,115,163,211}{\tile{\tx}{\ty}}}
\draw[sym] (87,484) -- (87,503) (80,503) -- (94,503) (82,506) -- (92,506) (84,508.5) -- (90,508.5);
\draw[sym,line width=1.2pt] (128,492) -- (142,492) (130,496) -- (140,496) (132,499) -- (138,499) (134,502) -- (136,502) (135,489) -- (135,492);
\draw[sym] (183,488) -- (183,492) (176,492) -- (190,492) -- (183,499) -- cycle;
\draw[sym] (225,495) -- (229,495) (229,489) -- (229,501) (233,491) -- (233,499) (233,495) -- (237,495);
\draw[sym] (71,543) -- (78,543) (78,538) -- (78,548) (84,540) -- (84,546) (89,537) -- (89,549) (94,540) -- (94,546) (99,538) -- (99,548) (99,543) -- (105,543);
\draw[sym] (135,543) circle[radius=6] (130,543) -- (132,543) (138,543) -- (140,543);
\draw[sym] (183,543) circle[radius=6] (177,543) -- (189,543);
\draw[sym] (219,543) -- (222,550) -- (226,537) -- (230,550) -- (234,537) -- (238,550) -- (243,543);
\draw[sym] (75,586) rectangle (99,596);
\draw[sym] (126,592) -- (130,587) -- (133,595) -- (137,587) -- (140,595) -- (144,588) (127,598) -- (144,584);
\draw[sym] (171,591) -- (175,598) -- (180,584) -- (185,598) -- (190,584) -- (195,591) (171,604) -- (193,580) (189,578) -- (196,584);
\draw[sym] (219,591) -- (223,598) -- (228,584) -- (233,598) -- (238,584) -- (243,591) (219,604) -- (241,580) (237,578) -- (244,584) (231,578) -- (231,588);
\draw[sym] (75,641) -- (79,632) -- (83,641) (85,641) -- (87,632) -- (91,641) (87,625) -- (87,633);
\draw[sym] (135,627) -- (135,640) (129,636) -- (141,636);
\draw[sym] (173,639) -- (181,639) (181,633) -- (181,641) (185,633) -- (185,641) (185,639) -- (193,639);
\draw[sym] (231,626) -- (231,640);
\fill[disgray] (227,636) rectangle (235,641);
% cover
\fill[white] (51,641) rectangle (295,697);
\draw[sepgray,line width=1pt] (51,641.5) -- (295,641.5);
\fill[accent,rounded corners=6pt] (67,653) rectangle (279,685);
\ut{173}{669.5}{center}{white}{More Symbols}
% === right panel ===
\draw[sepgray,line width=1pt] (1086.5,130) -- (1086.5,697);
\draw[sepgray,line width=1pt] (1122.5,130) -- (1122.5,697);
\draw[sepgray,line width=1pt] (1087,129.5) -- (1351,129.5);
\draw[sepgray,line width=1pt] (1122,162.5) -- (1351,162.5);
\draw[icdark,line width=1.7pt] (1099,141) -- (1104,146.5) -- (1099,152) (1105,141) -- (1110,146.5) -- (1105,152);
\fill[accent] (1087,162) rectangle (1122,197);
\draw[white,line width=1.3pt] (1101,170) -- (1104,173);
\fill[white] (1097,179) -- (1104,172) -- (1111,179) -- (1104,186) -- cycle;
\fill[white] (1112,185) circle[radius=1.3];
\draw[icdark,line width=1.4pt] (1105,224) circle[radius=8];
\ub{1105}{223.5}{center}{icdark}{\fontsize{11}{11}\selectfont ?}
\gear{1105}{681}{icdark}
\ub{1162}{147}{center}{accent}{Fill}
\ut{1241}{147}{center}{black!85}{Line}
\ut{1321}{147}{center}{black!85}{Shadow}
\foreach \ry/\rt in {187/No fill,219/Solid fill,251/Gradient fill,283/Single color gradient fill,315/Pattern fill,347/Picture or texture fill}{
  \fill[radiofill] (1151,\ry) circle[radius=7];
  \draw[black!8,line width=.8pt] (1151,\ry) circle[radius=7];
  \ut{1167}{\ry}{west}{disgray}{\rt}}
\fill[black!12] (1151,187) circle[radius=7];
\fill[white] (1151,187) circle[radius=3];
% === status bar ===
\fill[barbg] (0,697) rectangle (1351,726);
\draw[icdark,line width=1.1pt] (14,706) -- (14,719) (31,706) -- (31,719) (18,706) rectangle (27,719);
\foreach \sx in {43,172,213,286,781,912,1062,1281}{\draw[gridmaj,line width=.8pt] (\sx.5,702) -- (\sx.5,722);}
\ut{60}{714}{west}{black!85}{Page-1}
\caret{155}{711.5}{gray}
\draw[icdark,line width=1.2pt] (187,712.5) -- (199,712.5) (193,706.5) -- (193,718.5);
\ub{250}{714}{center}{accent}{Page-1}
\ut{839.5}{714}{center}{black!85}{\fontsize{10}{12}\selectfont Number of shapes: 30}
\draw[icdark,line width=1.1pt,line join=round] (933,705) -- (941,710) -- (933,715) -- (925,710) -- cycle (925,714) -- (933,719) -- (941,714);
\caret{948}{712}{gray}
\draw[icdark,line width=1.3pt] (968,707) -- (968,705) -- (971,705) (979,705) -- (982,705) -- (982,708) (982,717) -- (982,720) -- (979,720) (971,720) -- (968,720) -- (968,717);
\draw[icdark,line width=1.1pt] (972,708) rectangle (978,717);
\ut{1007}{714}{center}{black!85}{Focus}
\draw[icdark,line width=1.1pt] (1042,713) circle[radius=7.5];
\draw[icdark,line width=1.1pt,line join=round] (1039.5,709) -- (1046,713) -- (1039.5,717) -- cycle;
\draw[icdark,line width=1.2pt] (1073,713) -- (1084,713);
\fill[white] (1095,711.5) rectangle (1191,714.5);
\draw[icdark,line width=2.5pt] (1095,713) -- (1112,713);
\draw[icdark,line width=2pt,fill=white] (1112,713) circle[radius=4.5];
\draw[icdark,line width=1.2pt] (1202,713) -- (1213,713) (1207.5,707.5) -- (1207.5,718.5);
\ut{1244}{714}{center}{black!85}{64\%}
\caret{1265}{712}{gray}
\draw[icdark,line width=1.3pt] (1294,707) -- (1294,705.5) -- (1297,705.5) (1305,705.5) -- (1308,705.5) -- (1308,708) (1308,717) -- (1308,720) -- (1305,720) (1297,720) -- (1294,720) -- (1294,717);
\draw[icdark,line width=1.1pt] (1297,709) rectangle (1305,716);
\draw[icdark,line width=1.2pt] (1326,706) rectangle (1340,720);
\draw[icdark,line width=1pt] (1329,713) -- (1337,713) (1331,711) -- (1329,713) -- (1331,715) (1335,711) -- (1337,713) -- (1335,715);
\end{tikzpicture}
\end{document}
